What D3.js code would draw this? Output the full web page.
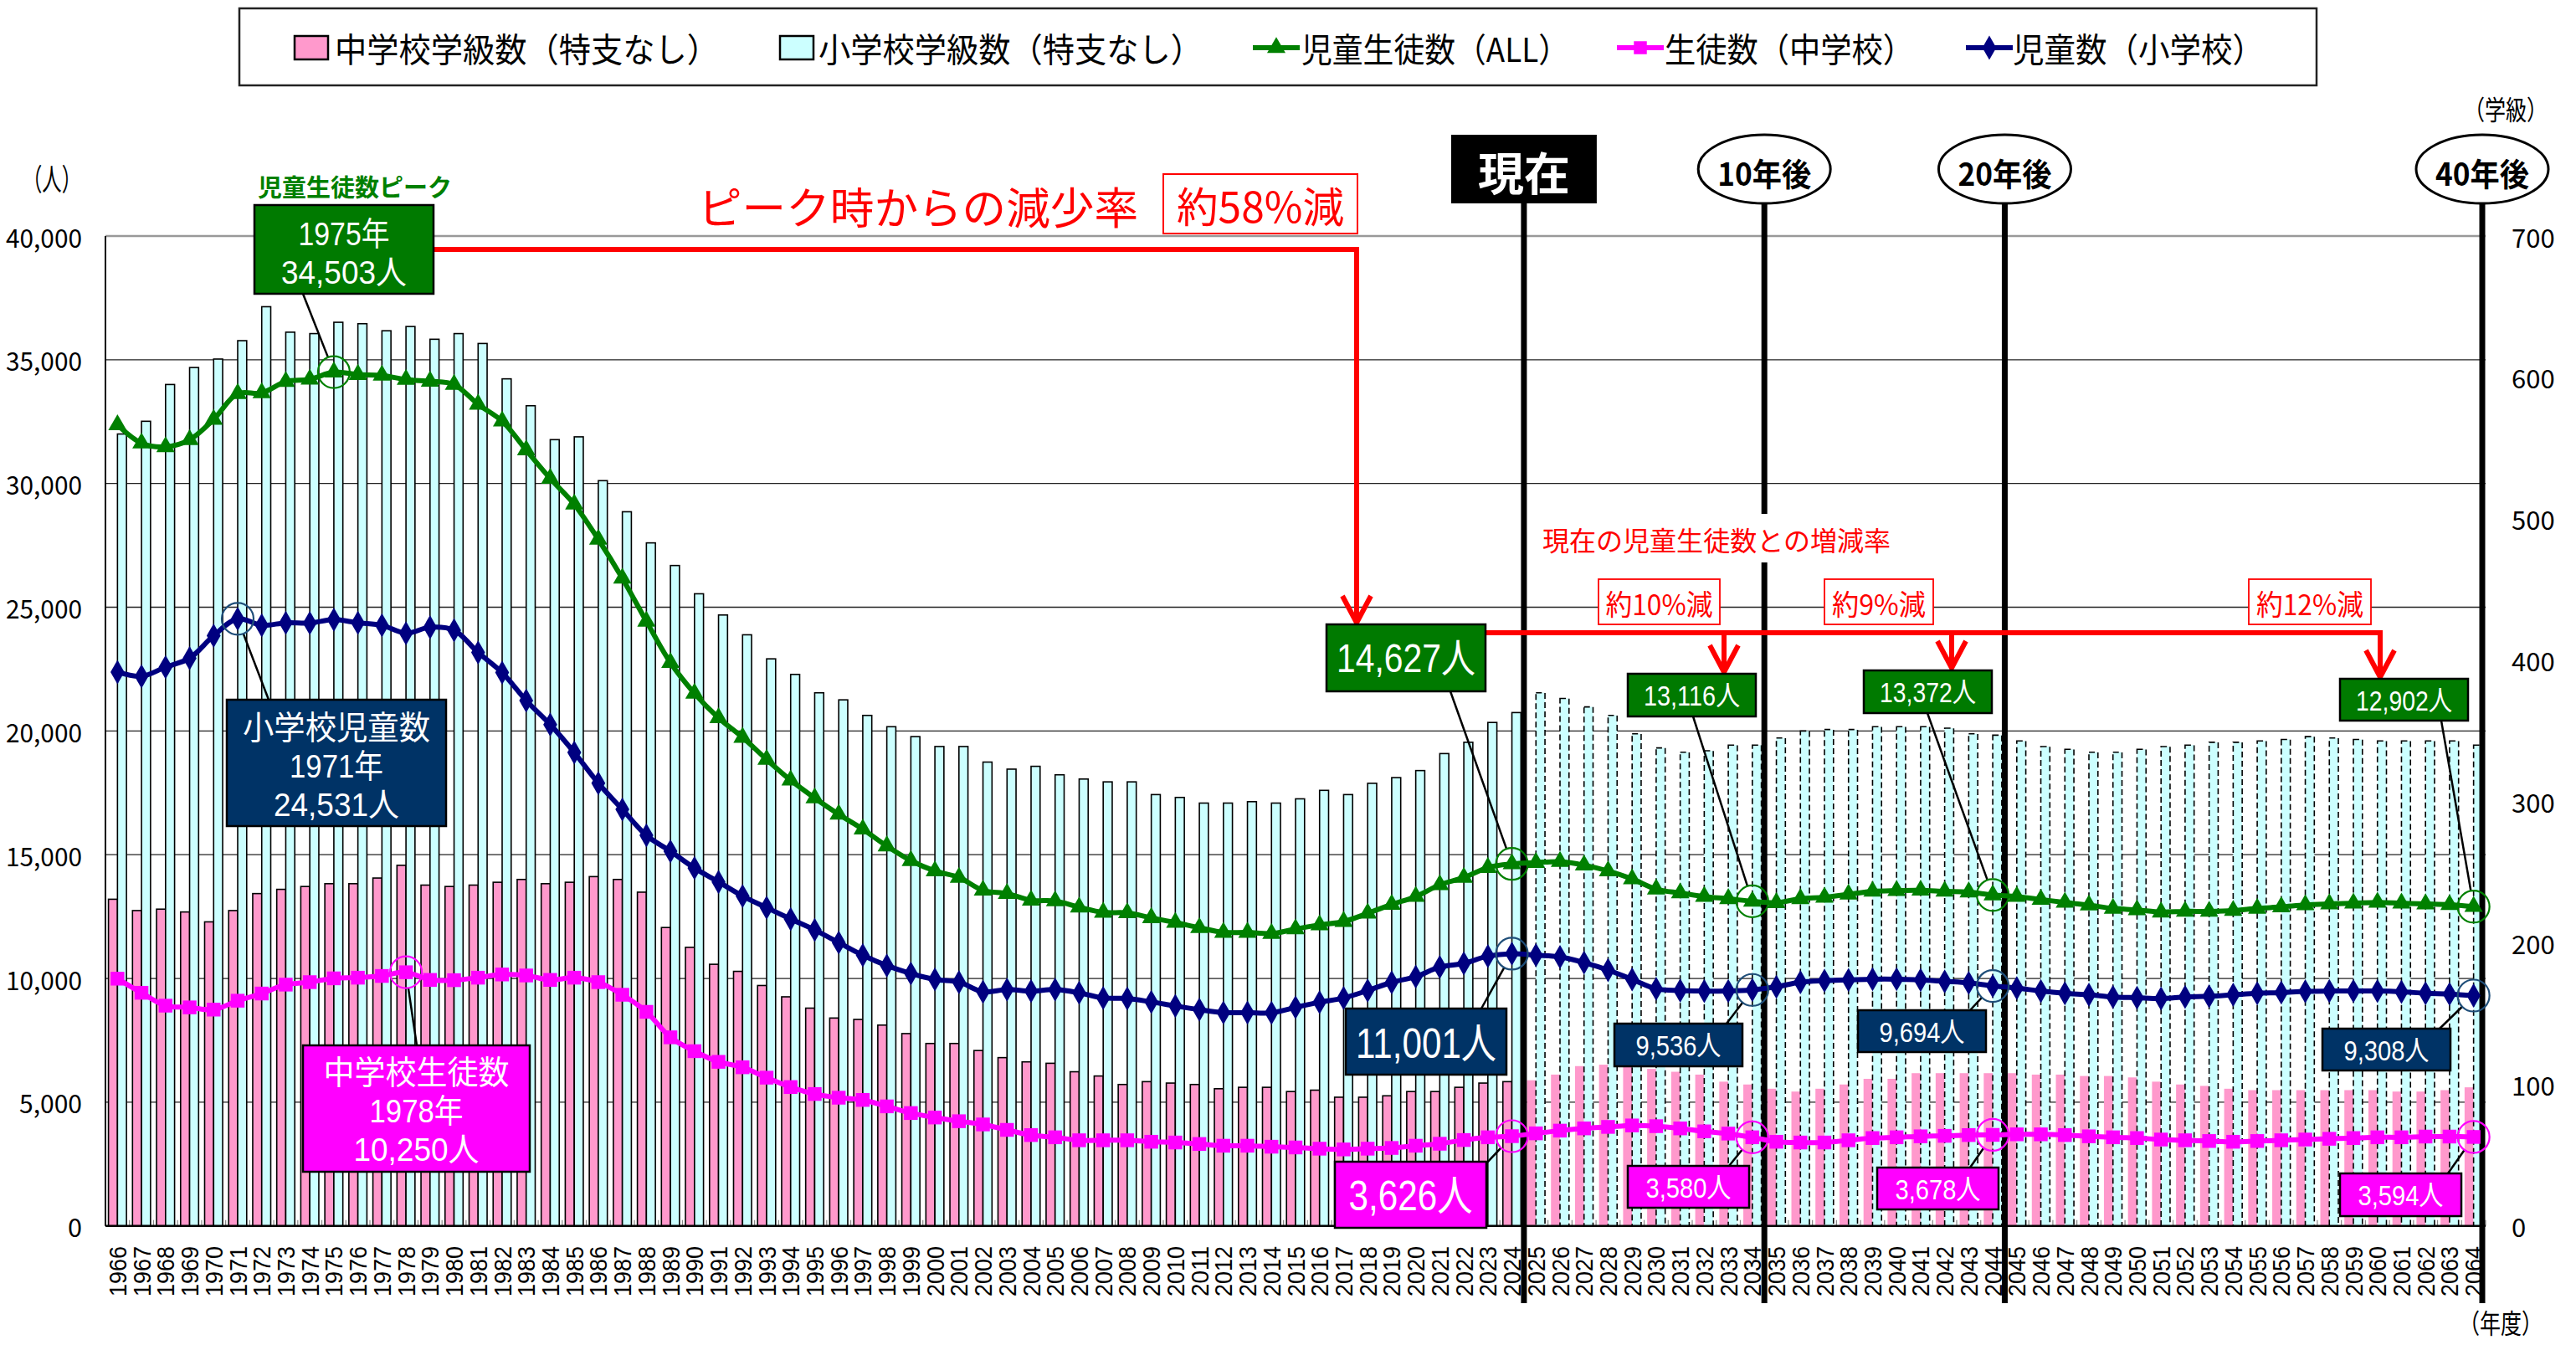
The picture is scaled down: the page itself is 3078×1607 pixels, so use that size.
<!DOCTYPE html>
<html>
<head>
<meta charset="utf-8">
<script src="https://cdn.jsdelivr.net/npm/d3@7"></script>
<style>
  body { margin: 0; background: #fff; }
  svg { display: block; }
  text { font-family: "Noto Sans CJK JP", "Noto Sans", sans-serif; }
  text.tight { font-family: "Liberation Sans", "Noto Sans CJK JP", sans-serif; }
</style>
</head>
<body>
<svg id="chart" width="3078" height="1607"></svg>
<script>
// ---- data -------------------------------------------------------------
const years = d3.range(1966, 2065);

// 中学校学級数（特支なし） — right axis (学級)
const juniorClasses = [
  231, 223, 224, 222, 215, 223, 235, 238, 240, 242, 242, 246, 255, 241, 240, 241, 243, 245, 242, 243,
  247, 245, 236, 211, 197, 185, 180, 170, 162, 154, 147, 146, 142, 136, 129, 129, 124, 119, 116, 115,
  109, 106, 100, 102, 101, 100, 97, 98, 98, 95, 96, 91, 91, 92, 95, 95, 98, 101, 102, 103,
  107, 113, 114, 113, 111, 109, 107, 102, 100, 97, 95, 97, 100, 104, 104, 108, 108, 108, 108, 108,
  107, 107, 106, 106, 105, 102, 100, 99, 97, 96, 96, 96, 96, 96, 96, 95, 95, 96, 98
];

// 小学校学級数（特支なし） — right axis (学級)
const elementaryClasses = [
  560, 569, 595, 607, 613, 626, 650, 632, 631, 639, 638, 633, 636, 627, 631, 624, 599, 580, 556, 558,
  527, 505, 483, 467, 447, 432, 418, 401, 390, 377, 372, 361, 353, 346, 339, 339, 328, 323, 325, 319,
  316, 314, 314, 305, 303, 299, 299, 300, 299, 302, 308, 305, 313, 317, 322, 334, 342, 356, 363, 377,
  373, 367, 361, 348, 338, 335, 336, 340, 340, 345, 350, 351, 351, 353, 353, 353, 352, 348, 347, 343,
  339, 337, 335, 335, 337, 339, 340, 342, 342, 343, 344, 346, 345, 344, 343, 343, 343, 343, 340
];

// 児童生徒数（ALL） — left axis (人)
const totalStudents = [
  32370, 31630, 31480, 31770, 32590, 33631, 33660, 34120, 34210, 34503, 34400, 34370, 34200, 34130, 34000, 33200, 32520, 31350, 30200, 29160,
  27740, 26170, 24430, 22760, 21520, 20530, 19740, 18850, 18010, 17290, 16630, 16030, 15350, 14760, 14340, 14080, 13560, 13430, 13160, 13130,
  12880, 12670, 12650, 12450, 12260, 12050, 11860, 11860, 11810, 12000, 12160, 12300, 12630, 12990, 13310, 13780, 14080, 14480, 14627, 14680,
  14720, 14580, 14340, 14020, 13610, 13450, 13310, 13220, 13116, 13060, 13220, 13280, 13400, 13520, 13550, 13560, 13520, 13490, 13372, 13310,
  13190, 13070, 12960, 12830, 12770, 12680, 12710, 12710, 12740, 12830, 12890, 12970, 13010, 13040, 13070, 13040, 13010, 12980, 12902
];

// 生徒数（中学校） — left axis (人)
const juniorStudents = [
  9990, 9420, 8900, 8830, 8740, 9100, 9390, 9750, 9850, 10003, 10030, 10100, 10250, 9940, 9930, 10030, 10160, 10120, 9940, 10030,
  9850, 9340, 8650, 7620, 7060, 6630, 6410, 5990, 5610, 5330, 5180, 5090, 4830, 4560, 4380, 4230, 4100, 3880, 3670, 3580,
  3460, 3460, 3460, 3400, 3370, 3310, 3240, 3240, 3200, 3170, 3120, 3090, 3120, 3150, 3240, 3320, 3470, 3580, 3626, 3740,
  3850, 3940, 4000, 4060, 4030, 3940, 3820, 3730, 3580, 3400, 3370, 3370, 3460, 3550, 3580, 3620, 3640, 3670, 3678, 3700,
  3700, 3670, 3620, 3580, 3550, 3490, 3460, 3430, 3400, 3430, 3460, 3490, 3520, 3550, 3580, 3580, 3610, 3610, 3594
];

// 児童数（小学校） — left axis (人)
const elementaryStudents = [
  22380, 22210, 22580, 22940, 23850, 24531, 24270, 24370, 24360, 24500, 24370, 24270, 23950, 24190, 24070, 23170, 22360, 21230, 20260, 19130,
  17890, 16830, 15780, 15140, 14460, 13900, 13330, 12860, 12400, 11960, 11450, 10940, 10520, 10200, 9960, 9850, 9460, 9550, 9490, 9550,
  9420, 9210, 9190, 9050, 8890, 8740, 8620, 8620, 8610, 8830, 9040, 9210, 9510, 9840, 10070, 10460, 10610, 10900, 11001, 10940,
  10870, 10640, 10340, 9960, 9580, 9510, 9490, 9490, 9536, 9660, 9850, 9910, 9940, 9970, 9970, 9940, 9880, 9820, 9694, 9610,
  9490, 9400, 9340, 9250, 9220, 9190, 9250, 9280, 9340, 9400, 9430, 9480, 9490, 9490, 9490, 9460, 9400, 9370, 9308
];

const leftTicks = [0, 5000, 10000, 15000, 20000, 25000, 30000, 35000, 40000];
const rightTicks = [0, 100, 200, 300, 400, 500, 600, 700];
const currentYear = 2024;
const milestones = [
  { year: 2024, label: "現在" },
  { year: 2034, label: "10年後" },
  { year: 2044, label: "20年後" },
  { year: 2064, label: "40年後" }
];
const legendLabels = ["中学校学級数（特支なし）", "小学校学級数（特支なし）", "児童生徒数（ALL）", "生徒数（中学校）", "児童数（小学校）"];

// ---- colours ----------------------------------------------------------
const C = {
  pink: "#FF99CC", cyan: "#CCFFFF", green: "#008000", greenBox: "#007A00", magenta: "#FF00FF",
  navy: "#000080", navyBox: "#003366", navyRing: "#1F4E79", red: "#FF0000"
};

// ---- scales -----------------------------------------------------------
const svg = d3.select("#chart");
const plot = { left: 126, right: 2970, top: 282, bottom: 1464.7 };

const x = d3.scaleBand().domain(years).range([plot.left, plot.right])
  .paddingInner(0.25).paddingOuter(0.125);
const xs = d3.scaleBand().domain(["jr", "el"]).range([0, x.bandwidth()]);
const xc = yr => x(yr) + x.bandwidth() / 2;
const edge = yr => xc(yr) + x.step() / 2;
const yL = d3.scaleLinear().domain([0, 40000]).range([plot.bottom, plot.top]);
const yR = d3.scaleLinear().domain([0, 700]).range([plot.bottom, plot.top]);
const idx = yr => years.indexOf(yr);
const fmt = d3.format(",");

function label(g, px, py, str, o) {
  const t = g.append("text")
    .attr("x", px).attr("y", py)
    .attr("text-anchor", o.anchor || "middle")
    .attr("dominant-baseline", "central")
    .attr("fill", o.fill || "#000")
    .style("font-size", o.size + "px")
    .style("font-weight", o.weight || "normal")
    .text(str);
  if (o.cls) t.attr("class", o.cls);
  if (o.len) t.attr("textLength", o.len).attr("lengthAdjust", "spacingAndGlyphs");
  return t;
}

// ---- gridlines --------------------------------------------------------
const grid = svg.append("g");
leftTicks.filter(t => t > 0).forEach(t => {
  grid.append("line")
    .attr("x1", plot.left).attr("x2", plot.right)
    .attr("y1", yL(t)).attr("y2", yL(t))
    .attr("stroke", t === 40000 ? "#999" : "#222")
    .attr("stroke-width", t === 40000 ? 2.5 : 1.3);
});

// ---- bars (学級数) ------------------------------------------------------
const bars = svg.append("g");
years.forEach((yr, i) => {
  const future = yr > currentYear;
  const bw = xs.bandwidth();
  const pj = bars.append("rect")
    .attr("x", x(yr) + xs("jr")).attr("width", bw)
    .attr("y", yR(juniorClasses[i])).attr("height", plot.bottom - yR(juniorClasses[i]))
    .attr("fill", C.pink);
  if (!future) pj.attr("stroke", "#000").attr("stroke-width", 1.6);
  const pe = bars.append("rect")
    .attr("x", x(yr) + xs("el")).attr("width", bw)
    .attr("y", yR(elementaryClasses[i])).attr("height", plot.bottom - yR(elementaryClasses[i]))
    .attr("fill", C.cyan).attr("stroke", "#000").attr("stroke-width", 1.6);
  if (future) pe.attr("stroke-dasharray", "7,4");
});

// ---- axes -------------------------------------------------------------
const axes = svg.append("g");
years.forEach(yr => {
  axes.append("line")
    .attr("x1", edge(yr)).attr("x2", edge(yr))
    .attr("y1", plot.bottom).attr("y2", plot.bottom - 7)
    .attr("stroke", "#888").attr("stroke-width", 1.2);
});
axes.append("line").attr("x1", plot.left).attr("x2", plot.left)
  .attr("y1", plot.top).attr("y2", plot.bottom).attr("stroke", "#000").attr("stroke-width", 2);
axes.append("line").attr("x1", plot.left).attr("x2", plot.right)
  .attr("y1", plot.bottom).attr("y2", plot.bottom).attr("stroke", "#000").attr("stroke-width", 2.5);

leftTicks.forEach(t => label(axes, 98, yL(t), fmt(t), { anchor: "end", size: 31, len: t ? (t < 10000 ? 75 : 91) : 17 }));
rightTicks.forEach(t => label(axes, 3001, yR(t), String(t), { anchor: "start", size: 31 }));
label(axes, 62, 212, "（人）", { size: 36, len: 70 });
label(axes, 2994, 132, "（学級）", { size: 32, len: 100, cls: "tight" });
label(axes, 2988, 1582, "（年度）", { size: 32, len: 100, cls: "tight" });

years.forEach(yr => {
  axes.append("g").attr("transform", `translate(${xc(yr)},1489) rotate(-90)`)
    .append("text")
    .attr("text-anchor", "end").attr("dominant-baseline", "central")
    .style("font-family", "'Liberation Sans', Arial, sans-serif")
    .style("font-size", "30px")
    .attr("textLength", 60).attr("lengthAdjust", "spacingAndGlyphs")
    .text(yr);
});

// ---- milestone lines --------------------------------------------------
const ms = svg.append("g");
milestones.forEach(m => {
  const mx = Math.min(edge(m.year), plot.right - 4);
  ms.append("line").attr("x1", mx).attr("x2", mx)
    .attr("y1", 240).attr("y2", 1557)
    .attr("stroke", "#000").attr("stroke-width", 7);
});

// ---- student lines ----------------------------------------------------
const series = [
  { values: totalStudents, color: C.green, symbol: d3.symbolTriangle, size: 210 },
  { values: elementaryStudents, color: C.navy, symbol: d3.symbolDiamond, size: 240 },
  { values: juniorStudents, color: C.magenta, symbol: d3.symbolSquare, size: 270 }
];
const lineGen = d3.line().x(d => xc(d.yr)).y(d => yL(d.v)).curve(d3.curveCatmullRom.alpha(0.5));
const linesG = svg.append("g");
series.forEach(s => {
  const pts = years.map((yr, i) => ({ yr, v: s.values[i] }));
  linesG.append("path").datum(pts).attr("d", lineGen)
    .attr("fill", "none").attr("stroke", s.color).attr("stroke-width", 6);
  linesG.selectAll(null).data(pts).enter().append("path")
    .attr("transform", d => `translate(${xc(d.yr)},${yL(d.v)})`)
    .attr("d", d3.symbol().type(s.symbol).size(s.size))
    .attr("fill", s.color);
});

// ---- rate annotations (red) --------------------------------------------
const red = svg.append("g").attr("fill", "none").attr("stroke", C.red)
  .attr("stroke-width", 6).attr("stroke-linejoin", "miter");
function chevron(cx, tipY) {
  red.append("path").attr("d", `M${cx - 17},${tipY - 32} L${cx},${tipY} L${cx + 17},${tipY - 32}`);
}
red.append("path").attr("d", "M518,298 H1621 V742");
chevron(1621, 744);
red.append("path").attr("d", "M1775,756 H2844 V808");
red.append("path").attr("d", "M2060,756 V802");
red.append("path").attr("d", "M2332,756 V797");
chevron(2844, 809);
chevron(2060, 803);
chevron(2332, 798);

const ann = svg.append("g");
const peakIdx = d3.maxIndex(totalStudents);
const elemPeakIdx = d3.maxIndex(elementaryStudents);
const juniorPeakIdx = d3.maxIndex(juniorStudents);
const nowIdx = idx(currentYear);
const pctDown = (v, base) => `約${Math.round((1 - v / base) * 100)}%減`;

label(ann, 1097, 245, "ピーク時からの減少率", { size: 52, fill: C.red, len: 526 });
ann.append("rect").attr("x", 1390).attr("y", 208).attr("width", 232).attr("height", 71)
  .attr("fill", "#fff").attr("stroke", C.red).attr("stroke-width", 2);
label(ann, 1506, 244, pctDown(totalStudents[nowIdx], totalStudents[peakIdx]), { size: 50, fill: C.red, len: 200 });

ann.append("rect").attr("x", 1835).attr("y", 614).attr("width", 432).attr("height", 58).attr("fill", "#fff");
label(ann, 2051, 644, "現在の児童生徒数との増減率", { size: 32, fill: C.red, len: 416 });

const rateBoxes = [
  { year: 2034, x: 1910, w: 145, len: 128 },
  { year: 2044, x: 2180, w: 130, len: 112 },
  { year: 2064, x: 2687, w: 146, len: 128 }
];
rateBoxes.forEach(b => {
  ann.append("rect").attr("x", b.x).attr("y", 692).attr("width", b.w).attr("height", 54)
    .attr("fill", "#fff").attr("stroke", C.red).attr("stroke-width", 1.8);
  label(ann, b.x + b.w / 2, 720, pctDown(totalStudents[idx(b.year)], totalStudents[nowIdx]),
    { size: 34, fill: C.red, len: b.len });
});

// ---- value call-outs --------------------------------------------------
const callouts = [
  // peaks
  { vals: totalStudents, year: years[peakIdx], ring: C.green,
    box: [304, 245, 214, 106], fill: C.greenBox, anchor: [362, 351],
    lines: [[`${years[peakIdx]}年`, 279, 109], [`${fmt(totalStudents[peakIdx])}人`, 325, 150]], size: 39 },
  { vals: elementaryStudents, year: years[elemPeakIdx], ring: C.navyRing,
    box: [271, 836, 262, 151], fill: C.navyBox, anchor: [321, 836],
    lines: [["小学校児童数", 869, 224], [`${years[elemPeakIdx]}年`, 915, 112],
            [`${fmt(elementaryStudents[elemPeakIdx])}人`, 961, 150]], size: 39 },
  { vals: juniorStudents, year: years[juniorPeakIdx], ring: C.magenta,
    box: [362, 1249, 271, 151], fill: C.magenta, anchor: [498, 1249],
    lines: [["中学校生徒数", 1281, 222], [`${years[juniorPeakIdx]}年`, 1327, 112],
            [`${fmt(juniorStudents[juniorPeakIdx])}人`, 1373, 150]], size: 39 },
  // present
  { vals: totalStudents, year: 2024, ring: C.green, box: [1585, 746, 190, 80], fill: C.greenBox,
    anchor: [1733, 826], lines: [[null, 786, 166]], size: 48 },
  { vals: elementaryStudents, year: 2024, ring: C.navyRing, box: [1608, 1205, 192, 79], fill: C.navyBox,
    anchor: [1770, 1205], lines: [[null, 1247, 168]], size: 50 },
  { vals: juniorStudents, year: 2024, ring: C.magenta, box: [1595, 1388, 181, 79], fill: C.magenta,
    anchor: [1776, 1390], lines: [[null, 1429, 148]], size: 50 },
  // 10 years
  { vals: totalStudents, year: 2034, ring: C.green, box: [1945, 805, 153, 51], fill: C.greenBox,
    anchor: [2023, 856], lines: [[null, 831, 115]], size: 33 },
  { vals: elementaryStudents, year: 2034, ring: C.navyRing, box: [1929, 1223, 153, 51], fill: C.navyBox,
    anchor: [2063, 1223], lines: [[null, 1249, 102]], size: 33 },
  { vals: juniorStudents, year: 2034, ring: C.magenta, box: [1945, 1393, 145, 50], fill: C.magenta,
    anchor: [2066, 1393], lines: [[null, 1419, 102]], size: 33 },
  // 20 years
  { vals: totalStudents, year: 2044, ring: C.green, box: [2227, 801, 153, 51], fill: C.greenBox,
    anchor: [2303, 852], lines: [[null, 827, 115]], size: 33 },
  { vals: elementaryStudents, year: 2044, ring: C.navyRing, box: [2220, 1207, 153, 50], fill: C.navyBox,
    anchor: [2354, 1207], lines: [[null, 1233, 102]], size: 33 },
  { vals: juniorStudents, year: 2044, ring: C.magenta, box: [2243, 1395, 145, 50], fill: C.magenta,
    anchor: [2354, 1395], lines: [[null, 1421, 102]], size: 33 },
  // 40 years
  { vals: totalStudents, year: 2064, ring: C.green, box: [2796, 811, 153, 50], fill: C.greenBox,
    anchor: [2917, 861], lines: [[null, 837, 115]], size: 33 },
  { vals: elementaryStudents, year: 2064, ring: C.navyRing, box: [2775, 1229, 153, 50], fill: C.navyBox,
    anchor: [2915, 1229], lines: [[null, 1255, 102]], size: 33 },
  { vals: juniorStudents, year: 2064, ring: C.magenta, box: [2796, 1402, 145, 51], fill: C.magenta,
    anchor: [2925, 1402], lines: [[null, 1428, 102]], size: 33 }
];

const R = 19;
callouts.forEach(c => {
  const cx = xc(c.year), cy = yL(c.vals[idx(c.year)]);
  const [ax, ay] = c.anchor;
  const d = Math.hypot(cx - ax, cy - ay);
  ann.append("line")
    .attr("x1", ax).attr("y1", ay)
    .attr("x2", cx - (cx - ax) * R / d).attr("y2", cy - (cy - ay) * R / d)
    .attr("stroke", "#000").attr("stroke-width", 2.5);
  ann.append("circle").attr("cx", cx).attr("cy", cy).attr("r", R)
    .attr("fill", "none").attr("stroke", c.ring).attr("stroke-width", 2.2);
  const [bx, by, bw, bh] = c.box;
  ann.append("rect").attr("x", bx).attr("y", by).attr("width", bw).attr("height", bh)
    .attr("fill", c.fill).attr("stroke", "#000").attr("stroke-width", 2.5);
  c.lines.forEach(([str, ly, len]) => {
    label(ann, bx + bw / 2, ly, str === null ? `${fmt(c.vals[idx(c.year)])}人` : str,
      { size: c.size, fill: "#fff", len, cls: "tight" });
  });
});

label(ann, 424, 222, "児童生徒数ピーク", { size: 29, fill: C.green, weight: "bold", len: 232 });

// ---- milestone headers --------------------------------------------------
const hdr = svg.append("g");
milestones.forEach(m => {
  const mx = Math.min(edge(m.year), plot.right - 4);
  if (m.year === currentYear) {
    hdr.append("rect").attr("x", mx - 87).attr("y", 161).attr("width", 174).attr("height", 82).attr("fill", "#000");
    label(hdr, mx, 204, m.label, { size: 54, fill: "#fff", weight: "bold", len: 110 });
  } else {
    hdr.append("ellipse").attr("cx", mx).attr("cy", 202).attr("rx", 79).attr("ry", 41)
      .attr("fill", "#fff").attr("stroke", "#000").attr("stroke-width", 3);
    label(hdr, mx, 205, m.label, { size: 38, weight: "bold", len: 112 });
  }
});

// ---- legend -----------------------------------------------------------
const lg = svg.append("g");
lg.append("rect").attr("x", 286).attr("y", 10).attr("width", 2482).attr("height", 92)
  .attr("fill", "#fff").attr("stroke", "#222").attr("stroke-width", 2.5);
const legendItems = [
  { kind: "bar", fill: C.pink, mx: 372, tx: 400, len: 459 },
  { kind: "bar", fill: C.cyan, mx: 952, tx: 978, len: 459 },
  { kind: "line", color: C.green, symbol: d3.symbolTriangle, size: 210, mx: 1525, tx: 1555, len: 320 },
  { kind: "line", color: C.magenta, symbol: d3.symbolSquare, size: 240, mx: 1960, tx: 1989, len: 298 },
  { kind: "line", color: C.navy, symbol: d3.symbolDiamond, size: 240, mx: 2377, tx: 2405, len: 300 }
];
legendItems.forEach((it, i) => {
  if (it.kind === "bar") {
    lg.append("rect").attr("x", it.mx - 20).attr("y", 43).attr("width", 40).attr("height", 28)
      .attr("fill", it.fill).attr("stroke", "#000").attr("stroke-width", 2.5);
  } else {
    lg.append("line").attr("x1", it.mx - 28).attr("x2", it.mx + 28).attr("y1", 57).attr("y2", 57)
      .attr("stroke", it.color).attr("stroke-width", 6);
    lg.append("path").attr("transform", `translate(${it.mx},57)`)
      .attr("d", d3.symbol().type(it.symbol).size(it.size)).attr("fill", it.color);
  }
  label(lg, it.tx, 57, legendLabels[i], { anchor: "start", size: 40, len: it.len });
});
</script>
</body>
</html>
